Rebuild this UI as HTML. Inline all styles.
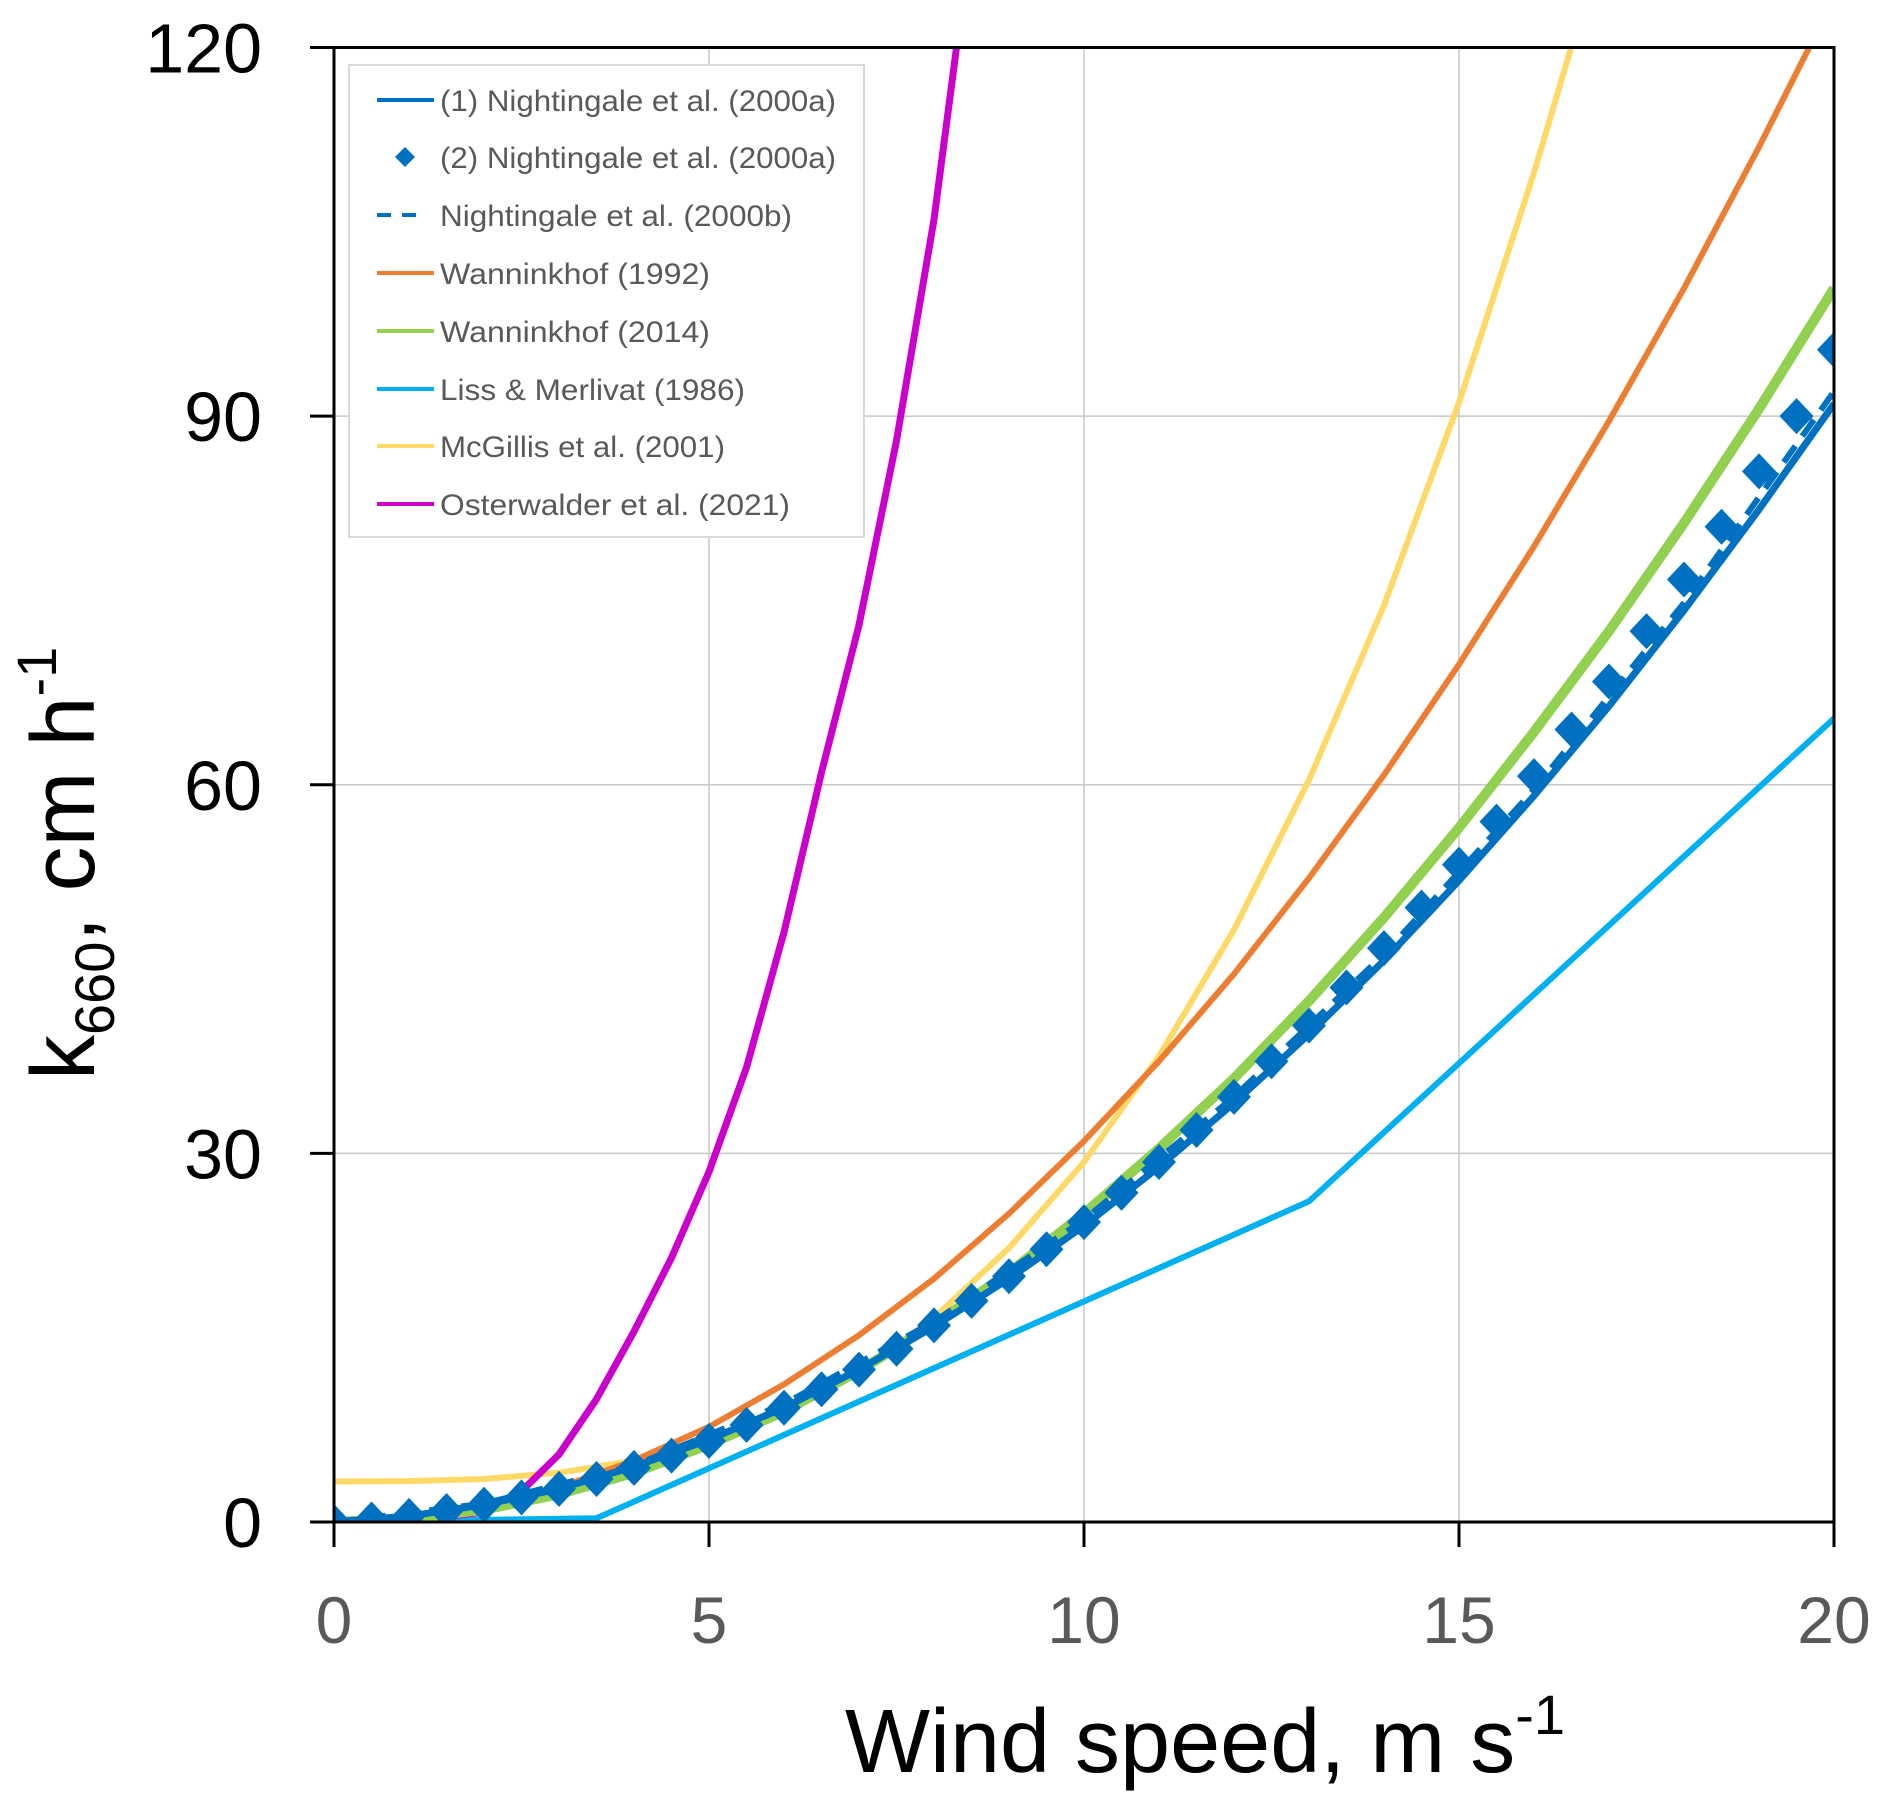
<!DOCTYPE html>
<html><head><meta charset="utf-8"><style>
html,body{margin:0;padding:0;background:#fff;}
svg{display:block;}
text{font-family:"Liberation Sans",sans-serif;}
</style></head><body>
<svg id="chart" width="1892" height="1811" viewBox="0 0 1892 1811" xmlns="http://www.w3.org/2000/svg">
<defs><clipPath id="plotclip"><rect x="334" y="47.5" width="1500" height="1475"/></clipPath></defs>
<g id="grid"></g>
<g id="series" clip-path="url(#plotclip)"></g>
<g id="axes"></g>
<g id="legend"></g>
<text x="845" y="1772" font-size="90" fill="#000">Wind speed, m s<tspan font-size="56" dy="-38">-1</tspan></text>
<text transform="translate(94,1080) rotate(-90)" font-size="90" fill="#000">k<tspan font-size="56" dy="20">660</tspan><tspan dy="-20">, cm h</tspan><tspan font-size="56" dy="-38">-1</tspan></text>
</svg>
<script>
const xTicks = [0, 5, 10, 15, 20];
const yTicks = [0, 30, 60, 90, 120];
const n1X = [0,1,2,3,4,5,6,7,8,9,10,11,12,13,14,15,16,17,18,19,20];
const n1Y = [0,0.48,1.4,2.7,4.5,6.7,9.3,12.4,15.9,19.8,24.1,28.9,34.1,39.7,45.7,52.2,59.1,66.4,74.2,82.4,91.0];
const n2X = [0,0.5,1,1.5,2,2.5,3,3.5,4,4.5,5,5.5,6,6.5,7,7.5,8,8.5,9,9.5,10,10.5,11,11.5,12,12.5,13,13.5,14,14.5,15,15.5,16,16.5,17,17.5,18,18.5,19,19.5,20];
const n2Y = [0,0.2,0.5,0.9,1.4,2.0,2.7,3.5,4.4,5.4,6.6,7.9,9.3,10.8,12.4,14.1,16.0,18.0,20.0,22.2,24.4,26.8,29.3,31.9,34.6,37.5,40.4,43.5,46.7,50.0,53.5,57.0,60.7,64.5,68.4,72.5,76.7,81.0,85.5,90.0,95.4];
const nbX = [0,2,4,6,8,10,12,14,16,18,20];
const nbY = [0,1.5,4.6,9.6,16.3,24.6,34.6,46.2,59.6,74.8,92.0];
const w92X = [0,1,2,3,4,5,6,7,8,9,10,11,12,13,14,15,16,17,18,19,20];
const w92Y = [0,0.31,1.24,2.8,5.0,7.75,11.2,15.2,19.8,25.1,31,37.5,44.6,52.4,60.8,69.8,79.4,89.6,100.4,111.9,124];
const w14X = [0,1,2,3,4,5,6,7,8,9,10,11,12,13,14,15,16,17,18,19,20];
const w14Y = [0,0.25,1.0,2.26,4.0,6.3,9.0,12.3,16.1,20.3,25.1,30.4,36.1,42.4,49.2,56.5,64.3,72.5,81.3,90.6,100.4];
const lmX = [0,3.5,13,20];
const lmY = [0,0.3,26.1,65.4];
const mgX = [0,1,2,3,4,5,6,7,8,9,10,11,12,13,14,15,16,16.5,17];
const mgY = [3.3,3.33,3.5,4.0,5.0,6.55,8.9,12.2,16.6,22.3,29.3,37.9,48.2,60.4,74.6,91.1,109.8,120.1,131];
const osX = [0,1,2,2.5,3,3.5,4,4.5,5,5.5,6,6.5,7,7.5,8,8.3,8.6];
const osY = [0,0.1,0.8,2.5,5.5,10,15.5,21.5,28.5,37,48,61,73,88,106,120,133];

const NS = 'http://www.w3.org/2000/svg';
const X0 = 334, X1 = 1834, Y0 = 1522, Y1 = 47.5;
function xs(v){ return X0 + (v - 0) / 20 * (X1 - X0); }
function ys(v){ return Y0 - (v - 0) / 120 * (Y0 - Y1); }
function mk(tag, attrs, parent){ const e = document.createElementNS(NS, tag); for (const k in attrs) e.setAttribute(k, attrs[k]); parent.appendChild(e); return e; }

const grid = document.getElementById('grid');
const axes = document.getElementById('axes');
const series = document.getElementById('series');
const legend = document.getElementById('legend');

xTicks.forEach(t => {
  if (t > 0 && t < 20) {
    const g = mk('line', {x1: xs(t), x2: xs(t), y1: Y1, y2: Y0, stroke: '#c8c8c8', 'stroke-width': 1.5}, grid);
    
    
  }
  const tk = mk('line', {x1: xs(t), x2: xs(t), y1: Y0, y2: Y0 + 25, stroke: '#000', 'stroke-width': 3}, axes);
  
  
  const lb = mk('text', {x: xs(t), y: 1643, 'font-size': 66, fill: '#595959', 'text-anchor': 'middle'}, axes);
  
  
  lb.textContent = t;
});
yTicks.forEach(t => {
  if (t > 0 && t < 120) {
    const g = mk('line', {x1: X0, x2: X1, y1: ys(t), y2: ys(t), stroke: '#c8c8c8', 'stroke-width': 1.5}, grid);
    
    
  }
  const tk = mk('line', {x1: 310, x2: X0, y1: ys(t), y2: ys(t), stroke: '#000', 'stroke-width': 3}, axes);
  
  
  const lb = mk('text', {x: 262, y: ys(t) + 25, 'font-size': 70, fill: '#000', 'text-anchor': 'end'}, axes);
  
  
  lb.textContent = t;
});
const frame = mk('rect', {x: X0, y: Y1, width: X1 - X0, height: Y0 - Y1, fill: 'none', stroke: '#000', 'stroke-width': 3}, axes);



function path(xa, ya){ return xa.map((x, i) => (i ? 'L' : 'M') + xs(x).toFixed(1) + ',' + ys(ya[i]).toFixed(1)).join(' '); }
function line(xa, ya, color, w, name, dash){
  const p = mk('path', {d: path(xa, ya), fill: 'none', stroke: color, 'stroke-width': w, 'stroke-linejoin': 'round'}, series);
  if (dash) p.setAttribute('stroke-dasharray', dash);
  
  
}
line(lmX, lmY, '#00B0F0', 6, 'liss-merlivat-1986-line');
line(mgX, mgY, '#FFD966', 6, 'mcgillis-2001-line');
line(w92X, w92Y, '#ED7D31', 6, 'wanninkhof-1992-line');
line(osX, osY, '#CC00CC', 7, 'osterwalder-2021-line');
line(w14X, w14Y, '#92D050', 10, 'wanninkhof-2014-line');
line(nbX, nbY, '#0070C0', 6, 'nightingale-2000b-line', '20 12');
line(n1X, n1Y, '#0070C0', 7, 'nightingale-2000a-1-line');
n2X.forEach((x, i) => {
  const cx = xs(x), cy = ys(n2Y[i]), h = 18, w = 17;
  const d = mk('polygon', {points: `${cx},${cy - h} ${cx + w},${cy} ${cx},${cy + h} ${cx - w},${cy}`, fill: '#0070C0'}, series);
  
  
});

const lbox = mk('rect', {x: 349, y: 65, width: 515, height: 472, fill: '#fff', stroke: '#d9d9d9', 'stroke-width': 2}, legend);


const legNames = ['(1) Nightingale et al. (2000a)', '(2) Nightingale et al. (2000a)', 'Nightingale et al. (2000b)', 'Wanninkhof (1992)', 'Wanninkhof (2014)', 'Liss & Merlivat (1986)', 'McGillis et al. (2001)', 'Osterwalder et al. (2021)'];
const legColors = ['#0070C0', '#0070C0', '#0070C0', '#ED7D31', '#92D050', '#00B0F0', '#FFD966', '#CC00CC'];
const legWidths = [396, 396, 352, 270, 270, 305, 285, 350];
const legY = [100, 157, 215, 273, 331, 389, 446, 504];
legNames.forEach((nm, i) => {
  const y = legY[i];
  if (i === 1) {
    const d = mk('polygon', {points: `405,${y - 10} 415,${y} 405,${y + 10} 395,${y}`, fill: '#0070C0'}, legend);
    
    
  } else {
    const l = mk('line', {x1: 377, x2: 434, y1: y, y2: y, stroke: legColors[i], 'stroke-width': 4}, legend);
    if (i === 2) { l.setAttribute('stroke-dasharray', '14 11'); l.setAttribute('x2', '425'); }
    
    
  }
  const t = mk('text', {x: 440, y: y + 11, 'font-size': 30, fill: '#595959', textLength: legWidths[i], lengthAdjust: 'spacingAndGlyphs'}, legend);
  
  
  t.textContent = nm;
});
</script>
</body></html>
